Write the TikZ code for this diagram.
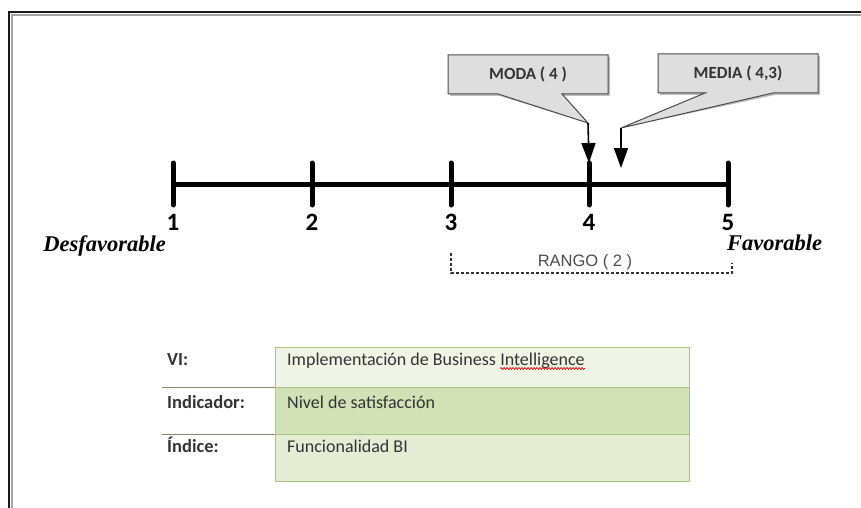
\documentclass[tikz,border=0pt]{standalone}
\usepackage{fontspec}
\setmainfont{Liberation Serif}
\newfontfamily\calib{Carlito}
\newfontfamily\arialf{Liberation Sans}
\usetikzlibrary{arrows.meta,calc,backgrounds,decorations.pathmorphing}

\definecolor{framecol}{HTML}{1A1A1A}
\definecolor{calloutfill}{HTML}{DEDEDE}
\definecolor{calloutline}{HTML}{4A4A4A}
\definecolor{gridgreen}{HTML}{A9C47F}
\definecolor{rowA}{HTML}{EFF4E6}
\definecolor{rowB}{HTML}{D3E1B7}
\definecolor{rowC}{HTML}{E5EDD5}
\definecolor{inktext}{HTML}{333333}
\definecolor{rulecol}{HTML}{7F8C6C}

\begin{document}
\begin{tikzpicture}[x=1pt,y=-1pt,
  axis/.style={line width=5pt,black},
  tickmark/.style={line width=5pt,black,line cap=round},
  num/.style={font=\calib\bfseries\fontsize{25}{28}\selectfont,inner sep=0pt},
  endlabel/.style={font=\bfseries\itshape\fontsize{22.5}{25}\selectfont,inner sep=0pt},
  callout/.style={font=\calib\bfseries\fontsize{17}{20}\selectfont,text=inktext,
    minimum width=160pt,minimum height=39pt,inner sep=0pt},
  calloutshape/.style={fill=calloutfill,draw=calloutline,line width=1pt,line join=miter},
  calloutshadow/.style={fill=black!25},
  pointer/.style={line width=1.6pt,black,-{Triangle[width=14pt,length=20pt]}},
  rango/.style={line width=1.6pt,black!80,dash pattern=on 3pt off 2pt},
  rangolabel/.style={font=\arialf\fontsize{16.5}{19}\selectfont,text=black!70,inner sep=0pt},
  cell/.style={draw=gridgreen,line width=1pt},
  rowlabel/.style={font=\calib\bfseries\fontsize{18.5}{21}\selectfont,text=inktext,inner sep=0pt,anchor=base west},
  rowtext/.style={font=\calib\fontsize{18}{21}\selectfont,text=inktext,inner sep=0pt,anchor=base west},
  rowrule/.style={draw=rulecol,line width=1pt},
  spellmark/.style={draw=red!85!black,line width=0.7pt,
    decorate,decoration={snake,amplitude=1pt,segment length=3pt}}]
\useasboundingbox (0,0) rectangle (861,508);

% page frame
\draw[black!35,line width=1.2pt] (12,508) -- (12,15) -- (861,15);
\draw[framecol,line width=2.2pt] (9,508) -- (9,12) -- (861,12);

% number line with its five ticks
\foreach \i/\x in {1/173,2/312,3/451,4/589,5/728}
  \coordinate (t\i) at (\x,184);
\draw[axis] (t1) -- (t5);
\foreach \i in {1,...,5}{
  \coordinate (t\i top) at ($(t\i)+(0,-21)$);
  \draw[tickmark] (t\i top) -- ($(t\i)+(0,21)$);
  \node[num] (n\i) at ($(t\i)+(0,38)$) {\i};
}
\node[endlabel,anchor=base east] (desf) at (166,251) {Desfavorable};
\node[endlabel,anchor=base west] (fav) at (727,250) {Favorable};

% range bracket
\coordinate (ra) at (451,253);
\coordinate (rb) at (451,273);
\coordinate (rc) at (732,273);
\coordinate (rd) at (732,263);
\draw[rango] (ra) -- (rb) -- (rc) -- (rd);
\node[rangolabel] (rangotxt) at (585,262) {RANGO ( 2 )};

% callouts: outline (with its pointer) first, then the text on top
\coordinate (modatip) at (588,123);
\coordinate (mediatip) at (621,128);
\coordinate (mediaend) at (621,168);
\fill[calloutshadow,shift={(2,2)}]
  (448,55) -- (608,55) -- (608,94) -- (562,94) -- (modatip) -- (498,94) -- (448,94) -- cycle;
\fill[calloutshadow,shift={(2,2)}]
  (658,54) -- (818,54) -- (818,93) -- (773,93) -- (mediatip) -- (705,93) -- (658,93) -- cycle;
\path[calloutshape]
  (448,55) -- (608,55) -- (608,94) -- (562,94) -- (modatip) -- (498,94) -- (448,94) -- cycle;
\path[calloutshape]
  (658,54) -- (818,54) -- (818,93) -- (773,93) -- (mediatip) -- (705,93) -- (658,93) -- cycle;
\node[callout] (moda) at (528,74.5) {MODA ( 4 )};
\node[callout] (media) at (738,73.5) {MEDIA ( 4,3)};
\draw[pointer] (modatip) -- (t4top);
\draw[pointer] (mediatip) -- (mediaend);

% indicator table
\path[cell,fill=rowA] (275,347) rectangle (689,387.5);
\path[cell,fill=rowB] (275,387.5) rectangle (689,434.5);
\path[cell,fill=rowC] (275,434.5) rectangle (689,481);
\draw[rowrule] (162,387.5) -- (275,387.5);
\draw[rowrule] (162,434.5) -- (275,434.5);

\node[rowlabel] (lvi) at (167,365) {VI:};
\node[rowlabel] (lind) at (167,408) {Indicador:};
\node[rowlabel] (lidx) at (167,452) {Índice:};

\node[rowtext] (tvi) at (287,365) {Implementación de Business};
\node[rowtext] (tintel) at ($(tvi.base east)+(4,0)$) {Intelligence};
\draw[spellmark] ($(tintel.base west)+(0,3.5)$) -- ($(tintel.base east)+(0,3.5)$);
\node[rowtext] (tind) at (287,408) {Nivel de satisfacción};
\node[rowtext] (tidx) at (287,452) {Funcionalidad BI};
\end{tikzpicture}
\end{document}
